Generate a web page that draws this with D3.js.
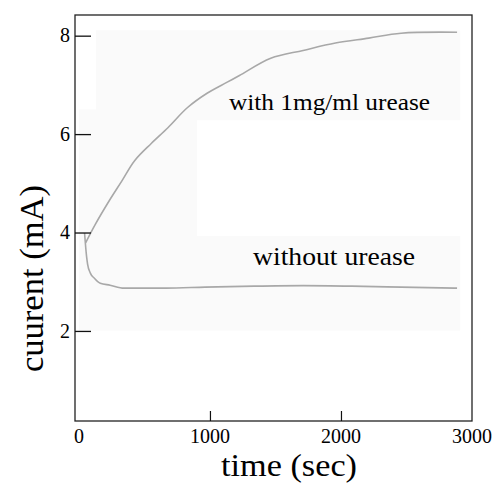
<!DOCTYPE html>
<html>
<head>
<meta charset="utf-8">
<script src="https://cdn.jsdelivr.net/npm/d3@7"></script>
<style>
  html, body { margin: 0; padding: 0; background: #fff; }
  svg { display: block; }
</style>
</head>
<body>
<div id="chart"></div>
<script>
// readings from the figure: time in seconds, current in mA
const withUreaseTime = [51, 126, 230, 328, 425, 552, 679, 829, 978, 1128, 1225, 1464, 1711, 1958, 2212, 2459, 2886];
const withUreaseCurrent = [3.79, 4.17, 4.64, 5.05, 5.46, 5.81, 6.13, 6.54, 6.83, 7.05, 7.19, 7.54, 7.70, 7.85, 7.95, 8.05, 8.07];

const withoutUreaseTime = [43, 58, 66, 88, 118, 163, 238, 343, 515, 664, 963, 1337, 1711, 2085, 2459, 2886];
const withoutUreaseCurrent = [3.99, 3.52, 3.36, 3.17, 3.07, 2.97, 2.93, 2.87, 2.87, 2.87, 2.89, 2.91, 2.92, 2.91, 2.89, 2.87];

const yTicks = [2, 4, 6, 8];
const xTickMarks = [1000, 2000];
const xTickLabels = [0, 1000, 2000, 3000];

const width = 492;
const height = 486;
const frame = { left: 75, top: 15, right: 472, bottom: 421 };
const serif = "Liberation Serif";

const x = d3.scaleLinear().domain([-30, 3000]).range([frame.left, frame.right]);
const y = d3.scaleLinear().domain([0.17, 8.42]).range([frame.bottom, frame.top]);

const svg = d3.select("#chart")
  .append("svg")
  .attr("width", width)
  .attr("height", height)
  .attr("viewBox", [0, 0, width, height]);

// faint scanned-paper tint behind the traces
const tint = d3.path();
tint.moveTo(x(130), y(8.11));
tint.lineTo(x(2910), y(8.11));
tint.lineTo(x(2910), y(6.28));
tint.lineTo(x(900), y(6.28));
tint.lineTo(x(900), y(3.93));
tint.lineTo(x(2910), y(3.93));
tint.lineTo(x(2910), y(2.01));
tint.lineTo(x(0), y(2.01));
tint.lineTo(x(0), y(6.5));
tint.lineTo(x(130), y(6.5));
tint.closePath();
svg.append("path").attr("d", tint.toString()).attr("fill", "#fafafa");

const smoothLine = d3.line()
  .x((d) => x(d[0]))
  .y((d) => y(d[1]))
  .curve(d3.curveCatmullRom.alpha(0.5));

const sharpLine = d3.line()
  .x((d) => x(d[0]))
  .y((d) => y(d[1]))
  .curve(d3.curveMonotoneX);

svg.append("path")
  .datum(d3.zip(withUreaseTime, withUreaseCurrent))
  .attr("fill", "none")
  .attr("stroke", "#a8a8a8")
  .attr("stroke-width", 1.6)
  .attr("d", smoothLine);

svg.append("path")
  .datum(d3.zip(withoutUreaseTime, withoutUreaseCurrent))
  .attr("fill", "none")
  .attr("stroke", "#a8a8a8")
  .attr("stroke-width", 1.6)
  .attr("d", sharpLine);

// frame
svg.append("rect")
  .attr("x", frame.left)
  .attr("y", frame.top)
  .attr("width", frame.right - frame.left)
  .attr("height", frame.bottom - frame.top)
  .attr("fill", "none")
  .attr("stroke", "#222")
  .attr("stroke-width", 1.3);

// y axis: inward ticks
const yAxis = svg.append("g")
  .attr("transform", `translate(${frame.left},0)`)
  .call(d3.axisRight(y).tickValues(yTicks).tickSize(16).tickFormat(""));
yAxis.select(".domain").remove();
yAxis.selectAll(".tick line").attr("stroke", "#111").attr("stroke-width", 1.3);

svg.selectAll(".ylab")
  .data(yTicks)
  .join("text")
  .attr("class", "ylab")
  .attr("x", 70)
  .attr("y", (d) => y(d))
  .attr("dy", "0.34em")
  .attr("text-anchor", "end")
  .style("font-family", serif)
  .style("font-size", "20px")
  .text((d) => d);

// x axis: inward ticks only at 1000 and 2000
const xAxis = svg.append("g")
  .attr("transform", `translate(0,${frame.bottom})`)
  .call(d3.axisTop(x).tickValues(xTickMarks).tickSize(10).tickFormat(""));
xAxis.select(".domain").remove();
xAxis.selectAll(".tick line").attr("stroke", "#111").attr("stroke-width", 1.2);

svg.selectAll(".xlab")
  .data(xTickLabels)
  .join("text")
  .attr("class", "xlab")
  .attr("x", (d) => x(d))
  .attr("y", 443)
  .attr("text-anchor", "middle")
  .style("font-family", serif)
  .style("font-size", "20px")
  .text((d) => d);

// series labels
svg.append("text")
  .attr("x", 229)
  .attr("y", 110)
  .style("font-family", serif)
  .style("font-size", "24px")
  .attr("textLength", 201)
  .attr("lengthAdjust", "spacingAndGlyphs")
  .text("with 1mg/ml urease");

svg.append("text")
  .attr("x", 253)
  .attr("y", 265)
  .style("font-family", serif)
  .style("font-size", "26px")
  .attr("textLength", 162)
  .attr("lengthAdjust", "spacingAndGlyphs")
  .text("without urease");

// axis titles
svg.append("text")
  .attr("x", 221)
  .attr("y", 476)
  .style("font-family", serif)
  .style("font-size", "32px")
  .attr("textLength", 136)
  .attr("lengthAdjust", "spacingAndGlyphs")
  .text("time (sec)");

svg.append("text")
  .attr("transform", "rotate(-90)")
  .attr("x", -372)
  .attr("y", 43)
  .style("font-family", serif)
  .style("font-size", "33px")
  .attr("textLength", 187)
  .attr("lengthAdjust", "spacingAndGlyphs")
  .text("cuurent (mA)");
</script>
</body>
</html>
